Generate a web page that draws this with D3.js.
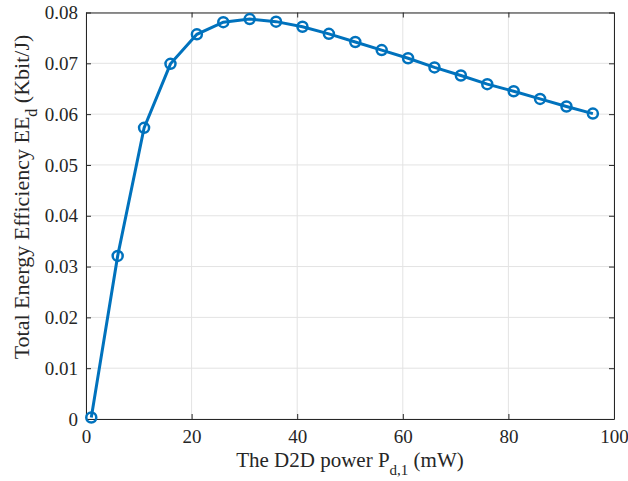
<!DOCTYPE html>
<html>
<head>
<meta charset="utf-8">
<script src="https://cdn.jsdelivr.net/npm/d3@7"></script>
<style>
  body { margin: 0; background: #fff; }
  text { font-family: "Liberation Serif", "Times New Roman", serif; fill: #262626; }
</style>
</head>
<body>
<div id="chart"></div>
<script>
const power = [1, 6, 11, 16, 21, 26, 31, 36, 41, 46, 51, 56, 61, 66, 71, 76, 81, 86, 91, 96];
const efficiency = [0.0003, 0.0321, 0.0573, 0.0699, 0.0757, 0.0781, 0.0787, 0.0782, 0.0772, 0.0758,
    0.0742, 0.0726, 0.0710, 0.0692, 0.0676, 0.0659, 0.0645, 0.0630, 0.0615, 0.0601];
const xTicks = [0, 20, 40, 60, 80, 100];
const yTicks = [0, 0.01, 0.02, 0.03, 0.04, 0.05, 0.06, 0.07, 0.08];

const width = 628, height = 481;
const margin = {top: 12.5, right: 14, bottom: 62, left: 86};
const serif = "'Liberation Serif', 'Times New Roman', serif";

const svg = d3.select("#chart").append("svg")
    .attr("width", width)
    .attr("height", height);

const x = d3.scaleLinear().domain([0, 100]).range([margin.left, width - margin.right]);
const y = d3.scaleLinear().domain([0, 0.08]).range([height - margin.bottom, margin.top]);

// grid
const grid = svg.append("g").attr("class", "grid");
grid.selectAll("line.gx").data(xTicks).enter().append("line")
    .attr("class", "gx")
    .attr("x1", d => x(d)).attr("x2", d => x(d))
    .attr("y1", y(0)).attr("y2", y(0.08))
    .attr("stroke", "#e3e3e3").attr("stroke-width", 1);
grid.selectAll("line.gy").data(yTicks).enter().append("line")
    .attr("class", "gy")
    .attr("x1", x(0)).attr("x2", x(100))
    .attr("y1", d => y(d)).attr("y2", d => y(d))
    .attr("stroke", "#e3e3e3").attr("stroke-width", 1);

// axes, ticks inward
const tl = 5;
svg.append("g")
    .attr("transform", "translate(0," + y(0) + ")")
    .call(d3.axisBottom(x).tickValues(xTicks).tickSizeInner(-tl).tickSizeOuter(0).tickPadding(11))
    .call(g => g.attr("font-size", 19));
svg.append("g")
    .attr("transform", "translate(0," + y(0.08) + ")")
    .call(d3.axisTop(x).tickValues(xTicks).tickSizeInner(-tl).tickSizeOuter(0).tickFormat(""));
svg.append("g")
    .attr("transform", "translate(" + x(0) + ",0)")
    .call(d3.axisLeft(y).tickValues(yTicks).tickSizeInner(-tl).tickSizeOuter(0).tickPadding(8)
        .tickFormat(d => d === 0 ? "0" : d3.format(".2f")(d)))
    .call(g => g.attr("font-size", 19));
svg.append("g")
    .attr("transform", "translate(" + x(100) + ",0)")
    .call(d3.axisRight(y).tickValues(yTicks).tickSizeInner(-tl).tickSizeOuter(0).tickFormat(""));
svg.selectAll(".domain, .tick line").attr("stroke", "#262626");
svg.selectAll(".tick text").attr("fill", "#262626").style("font-family", serif);

// line
const line = d3.line().x((d, i) => x(power[i])).y(d => y(d));
svg.append("path")
    .datum(efficiency)
    .attr("fill", "none")
    .attr("stroke", "#0072BD")
    .attr("stroke-width", 3)
    .attr("d", line);

svg.append("g")
    .selectAll("circle").data(efficiency).enter().append("circle")
    .attr("cx", (d, i) => x(power[i]))
    .attr("cy", d => y(d))
    .attr("r", 5)
    .attr("fill", "none")
    .attr("stroke", "#0072BD")
    .attr("stroke-width", 2.5);

// labels
const xl = svg.append("text")
    .attr("x", (x(0) + x(100)) / 2)
    .attr("y", 467)
    .attr("text-anchor", "middle")
    .attr("font-size", 21)
    .style("font-family", serif);
xl.append("tspan").text("The D2D power P");
xl.append("tspan").attr("dy", 8).attr("font-size", 15).text("d,1");
xl.append("tspan").attr("dy", -8).text(" (mW)");

const yl = svg.append("text")
    .attr("transform", "translate(29,197) rotate(-90)")
    .attr("text-anchor", "middle")
    .attr("font-size", 22)
    .style("font-family", serif);
yl.append("tspan").text("Total Energy Efficiency EE");
yl.append("tspan").attr("dy", 8).attr("font-size", 16).text("d");
yl.append("tspan").attr("dy", -8).text(" (Kbit/J)");
</script>
</body>
</html>
